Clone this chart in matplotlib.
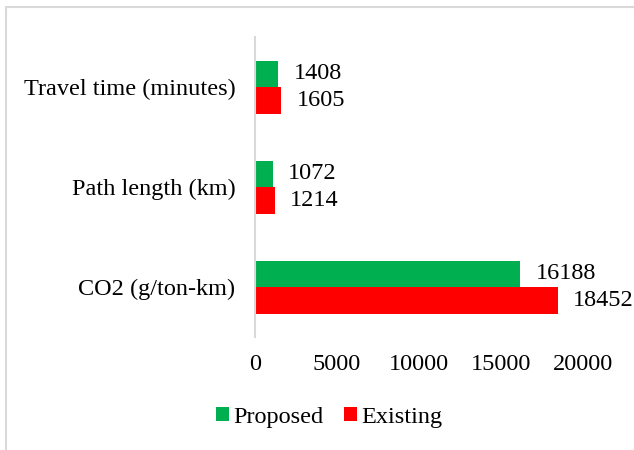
import matplotlib.pyplot as plt
import numpy as np
from matplotlib.patches import Rectangle

categories = ["CO2 (g/ton-km)", "Path length (km)", "Travel time (minutes)"]
proposed = [16188, 1072, 1408]
existing = [18452, 1214, 1605]
xticks = [0, 5000, 10000, 15000, 20000]

plt.rcParams["font.family"] = ["Liberation Serif", "DejaVu Serif"]
FS = 17.5

fig = plt.figure(figsize=(6.34, 4.5), dpi=100)
ax = fig.add_axes([255 / 634, 1 - 337 / 450, 328 / 634, 300 / 450])

y = np.arange(len(categories))
h = 0.265
green = "#00B050"
red = "#FF0000"
bp = ax.barh(y + h / 2, proposed, height=h, color=green, label="Proposed")
be = ax.barh(y - h / 2, existing, height=h, color=red, label="Existing")

# value labels to the right of each bar
for bars in (bp, be):
    for b in bars:
        ax.annotate(str(int(b.get_width())), (b.get_width(), b.get_y() + b.get_height() / 2),
                    xytext=(11, 0), textcoords="offset points", va="center", ha="left",
                    fontsize=FS, color="#000000")

ax.set_xlim(0, 20000)
ax.set_ylim(-0.5, 2.5)
ax.set_xticks(xticks)
ax.set_xticklabels([str(t) for t in xticks], fontsize=FS)
ax.set_yticks(y)
ax.set_yticklabels(categories, fontsize=FS)
ax.tick_params(axis="both", length=0)
ax.tick_params(axis="x", pad=12)
ax.tick_params(axis="y", pad=14)
for s in ["top", "right", "bottom"]:
    ax.spines[s].set_visible(False)
ax.spines["left"].set_color("#D9D9D9")
ax.spines["left"].set_linewidth(1.5)

fig.legend(handles=[bp, be], loc="center", bbox_to_anchor=(329 / 634, 1 - 417 / 450),
           ncol=2, frameon=False, fontsize=FS, handlelength=0.55, handleheight=0.55,
           handletextpad=0.15, columnspacing=0.85)

# outer chart border
fig.patches.append(Rectangle((6 / 634, -0.1), 1.2, 1 - 7 / 450 + 0.1, transform=fig.transFigure,
                             fill=False, edgecolor="#D9D9D9", linewidth=1.5))

fig.savefig("out.png", dpi=100)
